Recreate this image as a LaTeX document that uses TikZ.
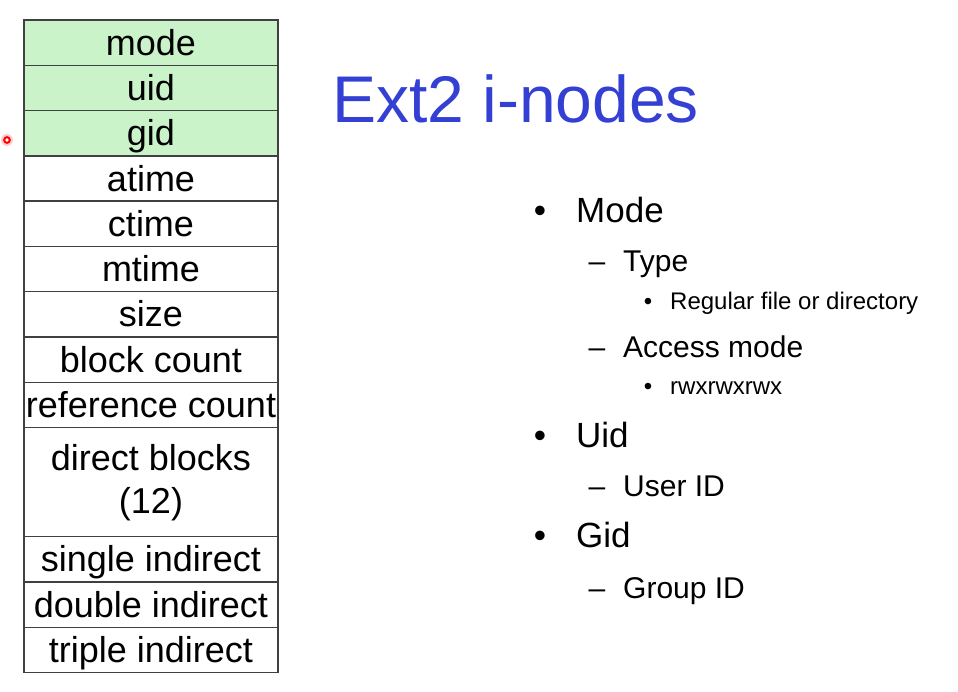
\documentclass[tikz,border=0pt]{standalone}
\usepackage{fontspec}
\setmainfont{Liberation Sans}
\usepackage{xcolor}
\usepackage{tikz}
\usetikzlibrary{positioning}

\definecolor{inodegreen}{RGB}{202,243,202}
\definecolor{tablegray}{RGB}{64,64,64}
\definecolor{titleblue}{RGB}{52,64,212}

\tikzset{
  cell/.style={draw=tablegray, line width=1.4pt, minimum width=254pt, minimum height=45.3pt,
    inner sep=0pt, outer sep=0pt, align=center, font=\fontsize{36}{43}\selectfont},
  field/.style={cell, text height=26.5pt, text depth=1.4pt},
  hot/.style={field, fill=inodegreen},
  lvlone/.style={anchor=base west, inner sep=0pt, font=\fontsize{35}{42}\selectfont},
  lvltwo/.style={anchor=base west, inner sep=0pt, font=\fontsize{30}{36}\selectfont},
  lvlthree/.style={anchor=base west, inner sep=0pt, font=\fontsize{24}{29}\selectfont},
  mark1/.style={lvlone, anchor=base},
  mark2/.style={lvltwo, anchor=base},
  mark3/.style={lvlthree, anchor=base}
}

\begin{document}
\begin{tikzpicture}[x=1pt, y=-1pt]
    \useasboundingbox (0,0) rectangle (958,692);
    % i-node table
    \node[hot] (mode) at (151,42.65) {mode};
    \node[hot, below=0pt of mode] (uid) {uid};
    \node[hot, below=0pt of uid] (gid) {gid};
    \node[field, below=0pt of gid] (atime) {atime};
    \node[field, below=0pt of atime] (ctime) {ctime};
    \node[field, below=0pt of ctime] (mtime) {mtime};
    \node[field, below=0pt of mtime] (size) {size};
    \node[field, below=0pt of size] (bcount) {block count};
    \node[field, below=0pt of bcount] (rcount) {reference count};
    \node[cell, below=0pt of rcount, minimum height=109pt] (direct) {direct blocks\\(12)};
    \node[field, below=0pt of direct] (single) {single indirect};
    \node[field, below=0pt of single] (double) {double indirect};
    \node[field, below=0pt of double] (triple) {triple indirect};
    % pointer mark
    \fill[red!20] (7,140) circle (6);
    \draw[red, line width=2pt, fill=white] (7,140) circle (2.8);
    % title
    \node[anchor=base west, inner sep=0pt, text=titleblue, font=\fontsize{66}{79}\selectfont] (title) at (332,123) {Ext2 i-nodes};
    % bullet list
    \node[mark1] (m1) at (540,223) {•};
    \node[lvlone] (mode-it) at (576,223) {Mode};
    \node[mark2] (m2) at (597,272) {–};
    \node[lvltwo] (type-it) at (623,272) {Type};
    \node[mark3] (m3) at (648,310) {•};
    \node[lvlthree] (reg-it) at (670,310) {Regular file or directory};
    \node[mark2] (m4) at (597,357) {–};
    \node[lvltwo] (acc-it) at (623,357) {Access mode};
    \node[mark3] (m5) at (648,394) {•};
    \node[lvlthree] (rwx-it) at (670,394) {rwxrwxrwx};
    \node[mark1] (m6) at (540,447) {•};
    \node[lvlone] (uid-it) at (576,447) {Uid};
    \node[mark2] (m7) at (597,496) {–};
    \node[lvltwo] (user-it) at (623,496) {User ID};
    \node[mark1] (m8) at (540,547) {•};
    \node[lvlone] (gid-it) at (576,547) {Gid};
    \node[mark2] (m9) at (597,598) {–};
    \node[lvltwo] (group-it) at (623,598) {Group ID};
\end{tikzpicture}
\end{document}
